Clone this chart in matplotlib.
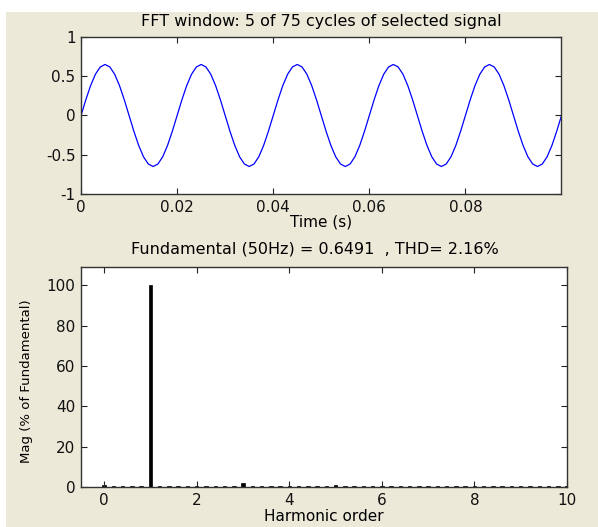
import matplotlib
matplotlib.use("Agg")
import matplotlib.pyplot as plt
from matplotlib.patches import Rectangle

# ---- data -----------------------------------------------------------------
# time samples (1 ms step) and signal values over the 5-cycle FFT window
time_ms = list(range(0, 101))
signal = [
    0.000, 0.201, 0.382, 0.526, 0.618, 0.650, 0.618, 0.526, 0.382, 0.201,
    0.000, -0.201, -0.382, -0.526, -0.618, -0.650, -0.618, -0.526, -0.382, -0.201,
    0.000, 0.201, 0.382, 0.526, 0.618, 0.650, 0.618, 0.526, 0.382, 0.201,
    0.000, -0.201, -0.382, -0.526, -0.618, -0.650, -0.618, -0.526, -0.382, -0.201,
    0.000, 0.201, 0.382, 0.526, 0.618, 0.650, 0.618, 0.526, 0.382, 0.201,
    0.000, -0.201, -0.382, -0.526, -0.618, -0.650, -0.618, -0.526, -0.382, -0.201,
    0.000, 0.201, 0.382, 0.526, 0.618, 0.650, 0.618, 0.526, 0.382, 0.201,
    0.000, -0.201, -0.382, -0.526, -0.618, -0.650, -0.618, -0.526, -0.382, -0.201,
    0.000, 0.201, 0.382, 0.526, 0.618, 0.650, 0.618, 0.526, 0.382, 0.201,
    0.000, -0.201, -0.382, -0.526, -0.618, -0.650, -0.618, -0.526, -0.382, -0.201,
    0.000,
]

# harmonic spectrum in steps of 0.2 (10 Hz resolution), % of fundamental
harmonic_order = [
    0.0, 0.2, 0.4, 0.6, 0.8, 1.0, 1.2, 1.4, 1.6, 1.8,
    2.0, 2.2, 2.4, 2.6, 2.8, 3.0, 3.2, 3.4, 3.6, 3.8,
    4.0, 4.2, 4.4, 4.6, 4.8, 5.0, 5.2, 5.4, 5.6, 5.8,
    6.0, 6.2, 6.4, 6.6, 6.8, 7.0, 7.2, 7.4, 7.6, 7.8,
    8.0, 8.2, 8.4, 8.6, 8.8, 9.0, 9.2, 9.4, 9.6, 9.8, 10.0,
]
mag_pct = [
    0.8, 0.4, 0.4, 0.4, 0.4, 100.0, 0.4, 0.4, 0.4, 0.4,
    0.4, 0.4, 0.4, 0.4, 0.4, 1.85, 0.4, 0.4, 0.4, 0.4,
    0.4, 0.4, 0.4, 0.4, 0.4, 0.9, 0.4, 0.4, 0.4, 0.4,
    0.4, 0.4, 0.4, 0.4, 0.4, 0.7, 0.4, 0.4, 0.4, 0.4,
    0.4, 0.4, 0.4, 0.4, 0.4, 0.6, 0.4, 0.4, 0.4, 0.4, 0.4,
]

TOP_TITLE = "FFT window: 5 of 75 cycles of selected signal"
BOTTOM_TITLE = "Fundamental (50Hz) = 0.6491  , THD= 2.16%"

BEIGE = "#ECE9D8"
plt.rcParams["font.family"] = ["DejaVu Sans"]
plt.rcParams["font.size"] = 11

fig = plt.figure(figsize=(5.98, 5.27), dpi=100, facecolor="white")
# window-style beige panel (white strip on the top and left)
fig.patches.append(Rectangle((0.010, 0.0), 0.99, 0.977, transform=fig.transFigure,
                             facecolor=BEIGE, edgecolor="none", zorder=-10))

def matlab_axes(ax):
    ax.set_facecolor("white")
    ax.tick_params(direction="in", top=True, right=True, length=4, width=0.8,
                   colors="#222222", labelcolor="#111111", labelsize=11, pad=4)
    for sp in ax.spines.values():
        sp.set_color("#333333")
        sp.set_linewidth(1.0)

# ---- top: time signal ------------------------------------------------------
ax1 = fig.add_axes([0.1355, 0.6319, 0.8027, 0.2979])
t = [v / 1000.0 for v in time_ms]
ax1.plot(t, signal, color="#0000FF", linewidth=0.9)
ax1.set_xlim(0, 0.0999)
ax1.set_ylim(-1, 1)
ax1.set_xticks([0, 0.02, 0.04, 0.06, 0.08])
ax1.set_xticklabels(["0", "0.02", "0.04", "0.06", "0.08"])
ax1.set_yticks([-1, -0.5, 0, 0.5, 1])
ax1.set_yticklabels(["-1", "-0.5", "0", "0.5", "1"])
ax1.set_xlabel("Time (s)", labelpad=0)
ax1.set_title(TOP_TITLE, fontsize=11.5, pad=8)
matlab_axes(ax1)

# ---- bottom: harmonic spectrum ---------------------------------------------
ax2 = fig.add_axes([0.1355, 0.0759, 0.8127, 0.4175])
ax2.bar(harmonic_order, mag_pct, width=0.075, color="black", edgecolor="black",
        linewidth=0.5)
ax2.set_xlim(-0.5, 10)
ax2.set_ylim(0, 109)
ax2.set_xticks([0, 2, 4, 6, 8, 10])
ax2.set_yticks([0, 20, 40, 60, 80, 100])
ax2.set_xlabel("Harmonic order", labelpad=1)
ax2.set_ylabel("Mag (% of Fundamental)", fontsize=9.5)
ax2.yaxis.set_label_coords(-0.099, 0.48)
ax2.set_title(BOTTOM_TITLE, fontsize=11.5, pad=10)
ax2.title.set_x(0.482)
matlab_axes(ax2)

fig.savefig("out.png", dpi=100, facecolor=fig.get_facecolor())
